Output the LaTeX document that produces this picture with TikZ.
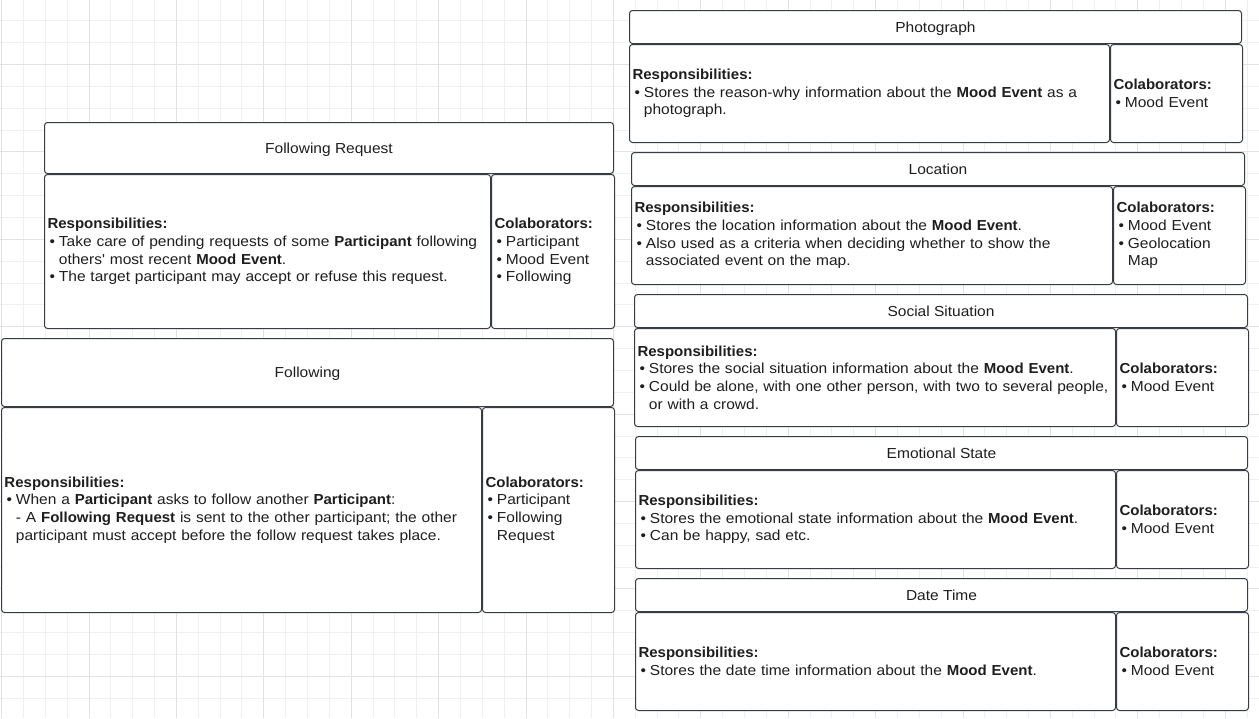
\documentclass[tikz,border=0pt]{standalone}
\usepackage{fontspec}
\newfontfamily\cardfam{Liberation Sans}[UprightFeatures={FakeStretch=1.07}, BoldFeatures={FakeStretch=1.035}]
\usepackage{tikz}
\usetikzlibrary{positioning}
\definecolor{cardline}{RGB}{55,60,68}
\definecolor{cardtext}{RGB}{30,30,30}
\definecolor{gridlo}{RGB}{240,240,240}
\definecolor{gridhi}{RGB}{226,226,226}
\newcommand{\cardfont}{\cardfam\fontsize{14.5}{17.7}\selectfont}
\newcommand{\bul}{\hspace*{2pt}\textbullet\hspace{4pt}}
\newcommand{\cont}{\hphantom{\bul}}
\tikzset{
  gridminor/.style={draw=gridlo, line width=0.8pt},
  gridmajor/.style={draw=gridhi, line width=0.8pt},
  cardbox/.style={rectangle, rounded corners=3pt, draw=cardline, fill=white, line width=1pt, text=cardtext, font=\cardfont},
  cardhead/.style={cardbox, inner sep=0pt, text depth=0pt, anchor=north west, text centered},
  cardresp/.style={cardbox, inner xsep=3pt, inner ysep=0pt, align=left},
  cardcolab/.style={cardbox, inner xsep=3pt, inner ysep=0pt, align=left}
}

\begin{document}
\begin{tikzpicture}[x=1pt, y=-1pt]
    \useasboundingbox (0,0) rectangle (1259,718);
    \fill[white] (0,0) rectangle (1259,718);

    % Raster
    \foreach \k in {0,...,57}
        \draw[gridminor] ({1.5+21.85*\k},0) -- ++(0,718);
    \foreach \k in {1,...,33}
        \draw[gridminor] (0,{-1.1+21.85*\k}) -- ++(1259,0);
    \foreach \k in {0,...,14}
        \draw[gridmajor] ({1.5+87.4*\k},0) -- ++(0,718);
    \foreach \k in {0,...,7}
        \draw[gridmajor] (0,{64.45+87.4*\k}) -- ++(1259,0);

    % Following Request
    \node (freqhead) [cardhead, minimum width=569, minimum height=51] at (44,122) {Following Request};
    \node (freqresp) [cardresp, text width=440, minimum height=154, below right=0pt and 0pt of freqhead.south west]
    {\textbf{Responsibilities:}\\
     \bul Take care of pending requests of some \textbf{Participant} following\\
     \cont others' most recent \textbf{Mood Event}.\\
     \bul The target participant may accept or refuse this request.};
    \node (freqcolab) [cardcolab, text width=117, minimum height=154, right=0pt of freqresp.north east, anchor=north west]
    {\textbf{Colaborators:}\\ \bul Participant\\ \bul Mood Event\\ \bul Following};

    % Following
    \node (follhead) [cardhead, minimum width=612, minimum height=68] at (1,338) {Following};
    \node (follresp) [cardresp, text width=474, minimum height=205, below right=0pt and 0pt of follhead.south west]
    {\textbf{Responsibilities:}\\
     \bul When a \textbf{Participant} asks to follow another \textbf{Participant}:\\
     \cont - A \textbf{Following Request} is sent to the other participant; the other\\
     \cont participant must accept before the follow request takes place.};
    \node (follcolab) [cardcolab, text width=126, minimum height=205, right=0pt of follresp.north east, anchor=north west]
    {\textbf{Colaborators:}\\ \bul Participant\\ \bul Following\\ \cont Request};

    % Photograph
    \node (photohead) [cardhead, minimum width=612, minimum height=33] at (629,10) {Photograph};
    \node (photoresp) [cardresp, text width=474, minimum height=98, below right=0pt and 0pt of photohead.south west]
    {\textbf{Responsibilities:}\\
     \bul Stores the reason-why information about the \textbf{Mood Event} as a\\
     \cont photograph.};
    \node (photocolab) [cardcolab, text width=126, minimum height=98, right=0pt of photoresp.north east, anchor=north west]
    {\textbf{Colaborators:}\\ \bul Mood Event};

    % Location
    \node (lochead) [cardhead, minimum width=613, minimum height=33] at (631,152) {Location};
    \node (locresp) [cardresp, text width=475, minimum height=98, below right=0pt and 0pt of lochead.south west]
    {\textbf{Responsibilities:}\\
     \bul Stores the location information about the \textbf{Mood Event}.\\
     \bul Also used as a criteria when deciding whether to show the\\
     \cont associated event on the map.};
    \node (loccolab) [cardcolab, text width=126, minimum height=98, right=0pt of locresp.north east, anchor=north west]
    {\textbf{Colaborators:}\\ \bul Mood Event\\ \bul Geolocation\\ \cont Map};

    % Social Situation
    \node (sochead) [cardhead, minimum width=613, minimum height=33] at (634,294) {Social Situation};
    \node (socresp) [cardresp, text width=475, minimum height=98, below right=0pt and 0pt of sochead.south west]
    {\textbf{Responsibilities:}\\
     \bul Stores the social situation information about the \textbf{Mood Event}.\\
     \bul Could be alone, with one other person, with two to several people,\\
     \cont or with a crowd.};
    \node (soccolab) [cardcolab, text width=126, minimum height=98, right=0pt of socresp.north east, anchor=north west]
    {\textbf{Colaborators:}\\ \bul Mood Event};

    % Emotional State
    \node (emohead) [cardhead, minimum width=612, minimum height=33] at (635,436) {Emotional State};
    \node (emoresp) [cardresp, text width=474, minimum height=98, below right=0pt and 0pt of emohead.south west]
    {\textbf{Responsibilities:}\\
     \bul Stores the emotional state information about the \textbf{Mood Event}.\\
     \bul Can be happy, sad etc.};
    \node (emocolab) [cardcolab, text width=126, minimum height=98, right=0pt of emoresp.north east, anchor=north west]
    {\textbf{Colaborators:}\\ \bul Mood Event};

    % Date Time
    \node (datehead) [cardhead, minimum width=612, minimum height=33] at (635,578) {Date Time};
    \node (dateresp) [cardresp, text width=474, minimum height=98, below right=0pt and 0pt of datehead.south west]
    {\textbf{Responsibilities:}\\
     \bul Stores the date time information about the \textbf{Mood Event}.};
    \node (datecolab) [cardcolab, text width=126, minimum height=98, right=0pt of dateresp.north east, anchor=north west]
    {\textbf{Colaborators:}\\ \bul Mood Event};

\end{tikzpicture}
\end{document}
